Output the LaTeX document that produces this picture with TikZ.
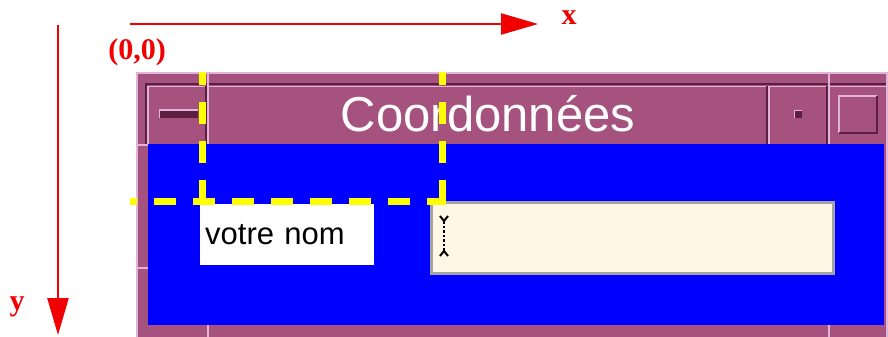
\documentclass[tikz,border=0pt]{standalone}
\usepackage{fontspec}
\setmainfont{Liberation Serif}
\setsansfont{Liberation Sans}
\usepackage{xcolor}
\usepackage{tikz}
\usetikzlibrary{arrows.meta, positioning}
\definecolor{axisred}{HTML}{F00000}
\definecolor{framemauve}{HTML}{A5527F}
\definecolor{framelight}{HTML}{E2B4DA}
\definecolor{framedark}{HTML}{5C1F42}
\definecolor{clientblue}{HTML}{0000FF}
\definecolor{guideyellow}{HTML}{FFFF00}
\definecolor{fieldcream}{HTML}{FFF6E6}
\definecolor{fieldgrey}{HTML}{A4A4A4}

\tikzset{
  axisarrow/.style={axisred, line width=2.5pt, -{Triangle[length=37pt, width=21pt]}},
  axislabel/.style={font=\rmfamily\bfseries\fontsize{30}{30}\selectfont, text=axisred, inner sep=0pt},
  guideline/.style={guideyellow, line width=7pt, dash pattern=on 22pt off 17pt},
  hilite/.style={framelight, line width=1.5pt},
  shade/.style={framedark, line width=1.5pt},
}

\begin{document}
\begin{tikzpicture}[x=1pt, y=-1pt, font=\sffamily]
    \useasboundingbox (0,0) rectangle (888,337);

    % Axes
    \coordinate (xtail) at (130,24);
    \coordinate (xhead) at (538,24);
    \coordinate (ytail) at (58,25);
    \coordinate (yhead) at (58,335);
    \draw[axisarrow] (xtail) -- (xhead);
    \draw[axisarrow] (ytail) -- (yhead);
    \node[axislabel] (xlabel) at (569,18) {x};
    \node[axislabel] (ylabel) at (17,307) {y};
    \node[axislabel] (origin) at (137,52) {(0,0)};

    % Window frame
    \fill[framelight] (136,72) rectangle (888,337);
    \fill[framemauve] (138,74) rectangle (886,337);
    \draw[shade] (146,145) -- (146,84) -- (886,84);
    \draw[hilite] (148,144) -- (148,86.5) -- (886,86.5);
    \draw[hilite] (137,145) -- (148,145);
    \draw[hilite] (137,268) -- (148,268);
    \draw[hilite] (208,325) -- (208,337);
    \draw[hilite] (829,325) -- (829,337);

    % Title bar dividers
    \draw[shade] (206,86) -- (206,144);
    \draw[hilite] (208,74) -- (208,144);
    \draw[shade] (767,86) -- (767,144);
    \draw[hilite] (769,86) -- (769,144);
    \draw[shade] (827,86) -- (827,144);
    \draw[hilite] (829,74) -- (829,144);

    % Title bar buttons
    \fill[framedark] (159,110) rectangle (198,118);
    \draw[hilite] (159.5,118) -- (159.5,110) -- (198,110);
    \fill[framedark] (794,110) rectangle (802,118);
    \draw[hilite] (794.5,118) -- (794.5,110.5) -- (802,110.5);
    \draw[hilite] (839,133) -- (839,96) -- (877,96);
    \draw[shade] (877,96) -- (877,133) -- (839,133);
    \node[font=\sffamily\fontsize{49}{49}\selectfont, text=white, anchor=base, inner sep=0pt] (title) at (488,131) {Coordonnées};

    % Client area
    \fill[clientblue] (148,144) rectangle (884,325);
    \node[fill=white, anchor=north west, minimum width=174pt, minimum height=61pt, text width=164pt, inner xsep=5pt, inner ysep=0pt, align=left, font=\sffamily\fontsize{31}{31}\selectfont] (namelabel) at (200,204) {votre nom};
    \node[fill=fieldcream, draw=fieldgrey, line width=3pt, anchor=north west, minimum width=402pt, minimum height=71pt, inner sep=0pt] (namefield) at (429.5,200.5) {};
    \draw[black, line width=2.5pt, dash pattern=on 2.5pt off 2pt] (444,221) -- (444,251);
    \draw[black, line width=2pt] (440,216) -- (444,221) -- (448,216);
    \draw[black, line width=2pt] (440,256) -- (444,251) -- (448,256);

    % Position guides
    \draw[guideline, dash phase=9pt] (202,72) -- (202,201);
    \draw[guideline, dash phase=9pt] (442,72) -- (442,201);
    \draw[guideline, dash phase=15pt] (130,201) -- (445.5,201);
\end{tikzpicture}
\end{document}
